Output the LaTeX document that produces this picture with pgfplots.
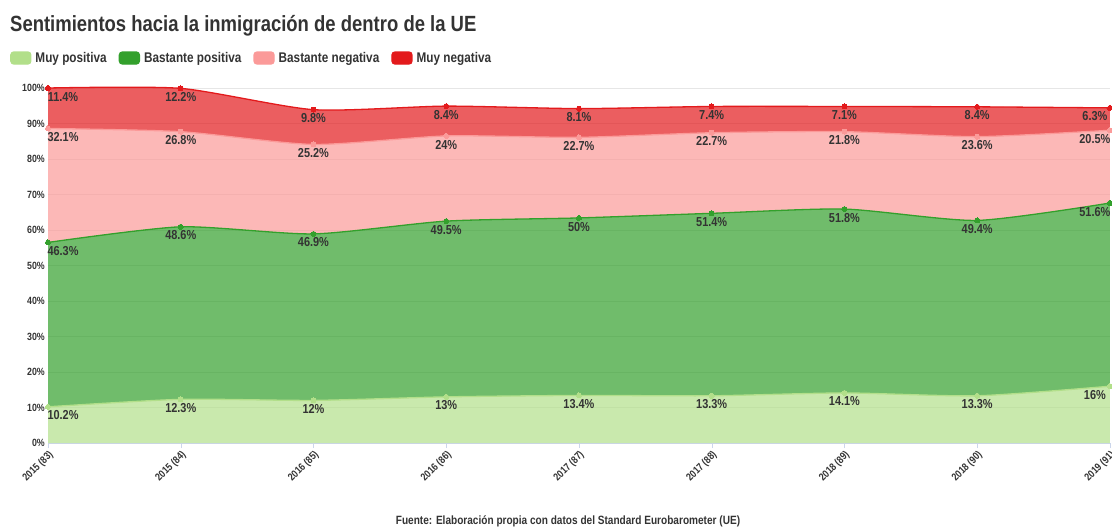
\documentclass[border=0pt]{standalone}
\usepackage{fontspec}
\setmainfont{Liberation Sans}[FakeStretch=0.84]
\usepackage{pgfplots}
\usepackage{pgfplotstable}
\pgfplotsset{compat=1.18}

\definecolor{mpC}{HTML}{B2DF8A}
\definecolor{bpC}{HTML}{33A02C}
\definecolor{bnC}{HTML}{FB9A99}
\definecolor{mnC}{HTML}{E31A1C}
\definecolor{txt}{HTML}{333333}
\definecolor{axgray}{HTML}{CCD6EB}
\definecolor{gridc}{HTML}{E6E6E6}

% Standard Eurobarometer, share of answers per wave
\pgfplotstableread{
x mp   bp   bn   mn
0 10.2 46.3 32.1 11.4
1 12.3 48.6 26.8 12.2
2 12   46.9 25.2 9.8
3 13   49.5 24   8.4
4 13.4 50   22.7 8.1
5 13.3 51.4 22.7 7.4
6 14.1 51.8 21.8 7.1
7 13.3 49.4 23.6 8.4
8 16   51.6 20.5 6.3
}\data

\pgfplotsset{
  base/.style={
    at={(48pt,-443pt)}, anchor=south west, scale only axis,
    width=1062pt, height=355pt,
    xmin=0, xmax=8, ymin=0, ymax=100,
    stack plots=y,
  },
}

\begin{document}
\begin{tikzpicture}
\node[anchor=base west, inner sep=0, text=txt,
  font=\bfseries\fontsize{22}{26}\selectfont] at (10pt,-31pt)
  {Sentimientos hacia la inmigración de dentro de la UE};

% filled layers, with the grid
\begin{axis}[base,
  axis x line*=bottom, axis y line*=left,
  x axis line style={draw=axgray,-}, y axis line style={draw=none},
  xtick={0,...,8},
  xticklabels={2015 (83),2015 (84),2016 (85),2016 (86),2017 (87),2017 (88),2018 (89),2018 (90),2019 (91)},
  ytick={0,10,...,100},
  yticklabel={\pgfmathprintnumber{\tick}\%},
  /pgf/number format/assume math mode=true,
  ymajorgrids, major grid style={draw=gridc},
  tick align=outside,
  xtick style={draw=axgray}, ytick style={draw=none},
  major tick length=5pt,
  xticklabel style={rotate=45, anchor=north east, inner sep=1pt,
    font=\bfseries\fontsize{10.5}{12}\selectfont, text=txt},
  yticklabel style={font=\bfseries\fontsize{10.5}{12}\selectfont, text=txt,
    inner sep=0pt, xshift=2pt},
]
\addplot[draw=none, fill=mpC, fill opacity=0.7, smooth, tension=0.4] table[x=x,y=mp]{\data} \closedcycle;
\addplot[draw=none, fill=bpC, fill opacity=0.7, smooth, tension=0.4] table[x=x,y=bp]{\data} \closedcycle;
\addplot[draw=none, fill=bnC, fill opacity=0.7, smooth, tension=0.4] table[x=x,y=bn]{\data} \closedcycle;
\addplot[draw=none, fill=mnC, fill opacity=0.7, smooth, tension=0.4] table[x=x,y=mn]{\data} \closedcycle;
\end{axis}

% layer tops, points, labels and legend
\begin{axis}[base, hide axis, clip=false,
  /pgf/number format/assume math mode=true,
  every axis plot/.append style={smooth, tension=0.4, line width=1.3pt,
    mark=*, mark size=2.5pt, mark options={solid, line width=0pt},
    nodes near coords={\pgfmathprintnumber{\pgfplotspointmeta}\%},
    point meta=explicit},
  visualization depends on={x \as \xv},
  every node near coord/.append style={anchor=north, text=txt, yshift=-3pt,
    xshift={(\xv<0.5)*15pt-(\xv>7.5)*15pt},
    inner sep=1pt, font=\bfseries\fontsize{13}{14}\selectfont},
  legend style={at={(axis description cs:-0.0358,1.0845)}, anchor=west,
    legend columns=-1, draw=none, fill=none, inner sep=0pt,
    font=\bfseries\fontsize{14}{16}\selectfont, text=txt,
    nodes={inner xsep=4pt},
    /tikz/every even column/.append style={column sep=8pt}},
]
\addplot[mpC, legend image code/.code={\fill[mpC, rounded corners=3pt] (0pt,-6pt) rectangle (20pt,6pt);}]
  table[x=x,y=mp,meta=mp]{\data};
\addlegendentry{Muy positiva}
\addplot[bpC, legend image code/.code={\fill[bpC, rounded corners=3pt] (0pt,-6pt) rectangle (20pt,6pt);}]
  table[x=x,y=bp,meta=bp]{\data};
\addlegendentry{Bastante positiva}
\addplot[bnC, legend image code/.code={\fill[bnC, rounded corners=3pt] (0pt,-6pt) rectangle (20pt,6pt);}]
  table[x=x,y=bn,meta=bn]{\data};
\addlegendentry{Bastante negativa}
\addplot[mnC, legend image code/.code={\fill[mnC, rounded corners=3pt] (0pt,-6pt) rectangle (20pt,6pt);}]
  table[x=x,y=mn,meta=mn]{\data};
\addlegendentry{Muy negativa}
\end{axis}

\node[anchor=base, inner sep=0, text=txt,
  font=\bfseries\fontsize{12}{14}\selectfont] at (568pt,-524pt)
  {Fuente: Elaboración propia con datos del Standard Eurobarometer (UE)};
\pgfresetboundingbox
\path (0pt,0pt) rectangle (1112pt,-530pt);
\end{tikzpicture}
\end{document}
